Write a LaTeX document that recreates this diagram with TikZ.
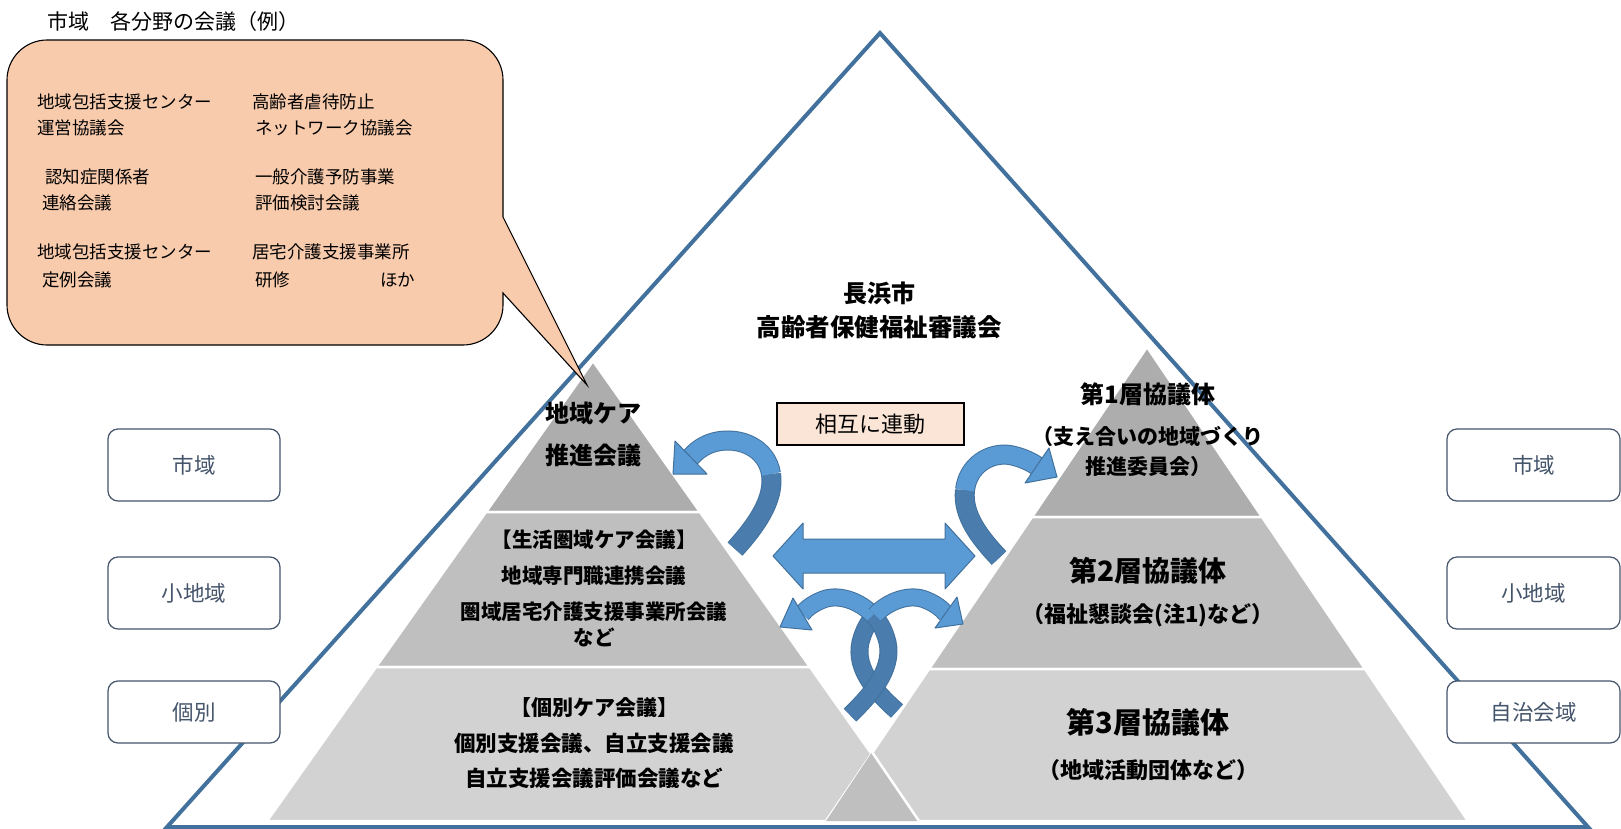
\documentclass[tikz,border=0pt]{standalone}
\usepackage{fontspec}
\newfontfamily\jp{Noto Sans CJK JP}
\definecolor{tri}{HTML}{41719C}
\definecolor{lb}{HTML}{5B9BD5}
\definecolor{db}{HTML}{4A7CAD}
\definecolor{ol}{HTML}{41719C}
\definecolor{peach}{HTML}{F8CBAD}
\definecolor{peachl}{HTML}{FBE5D6}
\definecolor{slate}{HTML}{44546A}
\definecolor{gA}{HTML}{ADADAD}
\definecolor{gB}{HTML}{BFBFBF}
\definecolor{gC}{HTML}{D2D2D2}
\begin{document}
\begin{tikzpicture}[x=1pt,y=-1pt,
  every node/.style={inner sep=0pt},
  bsz/.style={font=\jp\bfseries\fontsize{#1}{#1}\selectfont},
  rsz/.style={font=\jp\fontsize{#1}{#1}\selectfont},
  lvl/.style={draw=slate, line width=1.2pt, rounded corners=10pt, fill=white, text=slate,
              minimum width=172pt, font=\jp\fontsize{21.5}{21.5}\selectfont},
  tier/.style={draw=white, line width=2.5pt, line join=round},
  headst/.style={fill=lb, draw=ol, line width=1pt, line join=round},
  ctext/.style={anchor=west, rsz=17.5}
]
\useasboundingbox (0,0) rectangle (1621,829);

% big outline triangle
\filldraw[fill=white, draw=tri, line width=4pt] (880,33) -- (167,827) -- (1588,827) -- cycle;

% left pyramid
\fill[gA, tier] (593,361) -- (700,512) -- (486,512) -- cycle;
\fill[gB, tier] (486,512) -- (700,512) -- (810,667) -- (376,667) -- cycle;
\fill[gC, tier] (376,667) -- (810,667) -- (919,821) -- (267,821) -- cycle;
% right pyramid
\fill[gA, tier] (1147,347) -- (1262,517) -- (1032,517) -- cycle;
\fill[gB, tier] (1032,517) -- (1262,517) -- (1365,669) -- (929,669) -- cycle;
\fill[gC, tier] (929,669) -- (1365,669) -- (1468,821) -- (826,821) -- cycle;
% overlap
\fill[gB] (872,752) -- (919,821) -- (826,821) -- cycle;
\draw[white, line width=2.5pt] (872,752) -- (919,821);

% level boxes
\node[lvl, minimum height=72pt] (L1) at (194,465) {市域};
\node[lvl, minimum height=72pt] (L2) at (194,593) {小地域};
\node[lvl, minimum height=62pt] (L3) at (194,712) {個別};
\node[lvl, minimum height=72pt, minimum width=173pt] (R1) at (1533.5,465) {市域};
\node[lvl, minimum height=72pt, minimum width=173pt] (R2) at (1533.5,593) {小地域};
\node[lvl, minimum height=62pt, minimum width=173pt] (R3) at (1533.5,712) {自治会域};

% callout
\node[anchor=west, rsz=21] (title) at (47,22) {市域　各分野の会議（例）};
\filldraw[fill=peach, draw=black, line width=1.1pt]
  (503,217) -- (587,385) -- (503,293) -- (503,305)
  .. controls (503,327) and (485,345) .. (463,345)
  -- (47,345) .. controls (25,345) and (7,327) .. (7,305)
  -- (7,80) .. controls (7,58) and (25,40) .. (47,40)
  -- (463,40) .. controls (485,40) and (503,58) .. (503,80)
  -- cycle;
\node[ctext] (c1) at (37,102) {地域包括支援センター};
\node[ctext] (c2) at (37,128) {運営協議会};
\node[ctext] (c3) at (45,177) {認知症関係者};
\node[ctext] (c4) at (42,203) {連絡会議};
\node[ctext] (c5) at (37,252) {地域包括支援センター};
\node[ctext] (c6) at (42,280) {定例会議};
\node[ctext] (c7) at (252,102) {高齢者虐待防止};
\node[ctext] (c8) at (255,128) {ネットワーク協議会};
\node[ctext] (c9) at (255,177) {一般介護予防事業};
\node[ctext] (c10) at (255,203) {評価検討会議};
\node[ctext] (c11) at (252,252) {居宅介護支援事業所};
\node[ctext] (c12) at (255,280) {研修};
\node[ctext] (c13) at (380,280) {ほか};

% mutual box
\node[draw=black, fill=peachl, line width=1.2pt, minimum width=187pt, minimum height=42pt, rsz=22] (mut) at (870.5,424) {相互に連動};

% double arrow
\filldraw[fill=lb, draw=ol, line width=1pt, line join=round]
  (773,556) -- (803,523) -- (803,539) -- (945,539) -- (945,523) -- (975,556)
  -- (945,589) -- (945,573) -- (803,573) -- (803,589) -- cycle;

% A1 left U-turn arrow
\draw[ol, line width=20pt] (735,549) .. controls (755,527) and (775,500) .. (771,474);
\draw[db, line width=18pt] (735,549) .. controls (755,527) and (775,500) .. (771,474);
\draw[ol, line width=20pt] (771,474) .. controls (767,448) and (740,436) .. (715,442) .. controls (703,445) and (695,452) .. (690,458);
\draw[lb, line width=18pt] (771,474) .. controls (767,448) and (740,436) .. (715,442) .. controls (703,445) and (695,452) .. (690,458);
\filldraw[headst] (675,441) -- (673,474) -- (707,474) -- cycle;

% A2 right U-turn arrow
\draw[ol, line width=20pt] (999,558) .. controls (980,538) and (962,515) .. (965,490);
\draw[db, line width=18pt] (999,558) .. controls (980,538) and (962,515) .. (965,490);
\draw[ol, line width=20pt] (965,490) .. controls (968,465) and (990,452) .. (1010,455) .. controls (1020,457) and (1030,461) .. (1037,466);
\draw[lb, line width=18pt] (965,490) .. controls (968,465) and (990,452) .. (1010,455) .. controls (1020,457) and (1030,461) .. (1037,466);
\filldraw[headst] (1049,448) -- (1057,477) -- (1025,483) -- cycle;

% A4 (tail lower right, head right)
\draw[ol, line width=18pt] (897,711) .. controls (873,690) and (852,665) .. (862,637) .. controls (865,628) and (869,621) .. (875,615);
\draw[db, line width=16pt] (897,711) .. controls (873,690) and (852,665) .. (862,637) .. controls (865,628) and (869,621) .. (875,615);
% A3 (tail lower left, head left)
\draw[ol, line width=18pt] (850,715) .. controls (874,692) and (896,665) .. (886,637) .. controls (883,628) and (879,621) .. (873,615);
\draw[db, line width=16pt] (850,715) .. controls (874,692) and (896,665) .. (886,637) .. controls (883,628) and (879,621) .. (873,615);
\draw[ol, line width=18pt] (873,615) .. controls (860,601) and (838,593) .. (822,600) .. controls (812,604) and (806,609) .. (802,614);
\draw[lb, line width=16pt] (873,615) .. controls (860,601) and (838,593) .. (822,600) .. controls (812,604) and (806,609) .. (802,614);
\filldraw[headst] (793,598) -- (780,627) -- (812,630) -- cycle;
\draw[ol, line width=18pt] (875,615) .. controls (888,601) and (910,593) .. (926,600) .. controls (936,604) and (942,609) .. (946,614);
\draw[lb, line width=16pt] (875,615) .. controls (888,601) and (910,593) .. (926,600) .. controls (936,604) and (942,609) .. (946,614);
\filldraw[headst] (957,597) -- (963,624) -- (935,628) -- cycle;

% centre texts
\node[bsz=24] (ct1) at (879,293) {長浜市};
\node[bsz=24.5] (ct2) at (879,327) {高齢者保健福祉審議会};

% left pyramid texts
\node[bsz=24] (lt1) at (593,413) {地域ケア};
\node[bsz=24] (lt2) at (593,455) {推進会議};
\node[bsz=20.5] (lt3) at (594,540) {【生活圏域ケア会議】};
\node[bsz=20.5] (lt4) at (594,576) {地域専門職連携会議};
\node[bsz=20.5] (lt5) at (594,612) {圏域居宅介護支援事業所会議};
\node[bsz=20.5] (lt6) at (594,637) {など};
\node[bsz=21] (lt7) at (594,708) {【個別ケア会議】};
\node[bsz=21.5] (lt8) at (594,743) {個別支援会議、自立支援会議};
\node[bsz=21.5] (lt9) at (594,778) {自立支援会議評価会議など};

% right pyramid texts
\node[bsz=24] (rt1) at (1148,394) {第1層協議体};
\node[bsz=21] (rt2) at (1148,437) {（支え合いの地域づくり};
\node[bsz=21] (rt3) at (1148,467) {推進委員会）};
\node[bsz=28] (rt4) at (1148,571) {第2層協議体};
\node[bsz=22] (rt5) at (1148,615) {（福祉懇談会(注1)など）};
\node[bsz=29] (rt6) at (1148,722) {第3層協議体};
\node[bsz=22] (rt7) at (1148,770) {（地域活動団体など）};
\end{tikzpicture}
\end{document}
